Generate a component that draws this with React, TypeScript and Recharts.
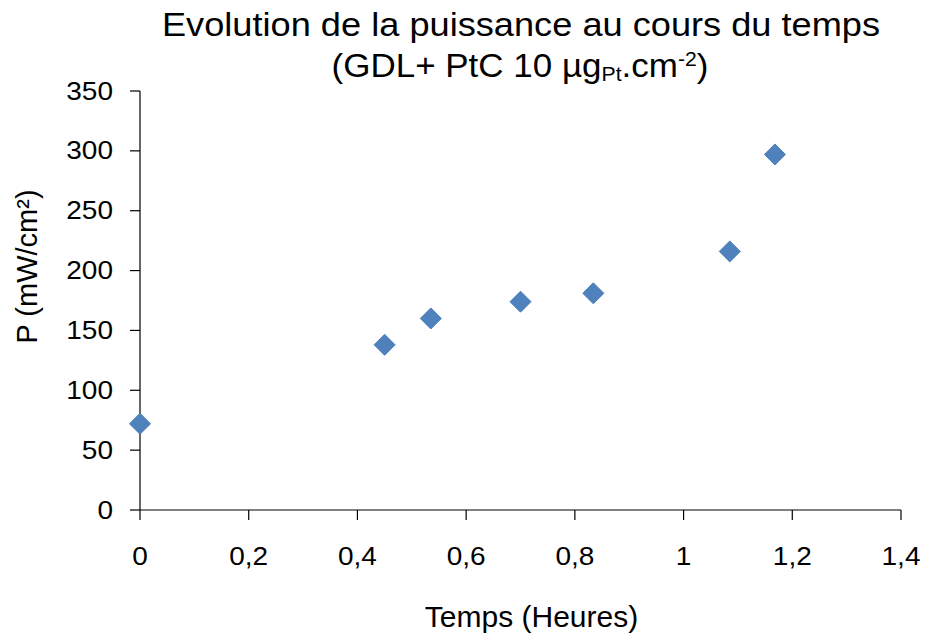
import React from 'react';
import { ScatterChart, Scatter, XAxis, YAxis, Label } from 'recharts';

const timeHours = [0, 0.45, 0.535, 0.7, 0.834, 1.085, 1.168];
const powerMW = [72, 138, 160, 174, 181, 216, 297];
const xTicks = [0, 0.2, 0.4, 0.6, 0.8, 1, 1.2, 1.4];
const yTicks = [0, 50, 100, 150, 200, 250, 300, 350];
const titleLine1 = 'Evolution de la puissance au cours du temps';
const titleLine2Main = '(GDL+ PtC 10 µg';
const titleSub = 'Pt';
const titleMid = '.cm';
const titleSup = '-2';
const titleEnd = ')';
const xAxisTitle = 'Temps (Heures)';
const yAxisTitle = 'P (mW/cm²)';

const data = timeHours.map((t, i) => ({ x: t, y: powerMW[i] }));

const FONT = "'Liberation Sans', Arial, Helvetica, sans-serif";
const fmt = (v: number) => String(v).replace('.', ',');

const Diamond = (props: any) => {
  const { cx, cy } = props;
  const r = 10.5;
  return (
    <polygon
      points={`${cx},${cy - r} ${cx + r},${cy} ${cx},${cy + r} ${cx - r},${cy}`}
      fill="#4F81BD"
      stroke="#4A7EBB"
      strokeWidth={1}
    />
  );
};

const XTick = (props: any) => {
  const { x, y, payload } = props;
  return (
    <text
      transform={`translate(${x},${y}) scale(1.12,1)`}
      textAnchor="middle"
      fontSize={25}
      fontFamily={FONT}
      fill="#000"
    >
      {fmt(payload.value)}
    </text>
  );
};

const YTick = (props: any) => {
  const { x, y, payload } = props;
  return (
    <text
      transform={`translate(${x},${y + 8.5}) scale(1.12,1)`}
      textAnchor="end"
      fontSize={25}
      fontFamily={FONT}
      fill="#000"
    >
      {fmt(payload.value)}
    </text>
  );
};

const XLabel = (props: any) => {
  const vb = props.viewBox || { x: 140, y: 510, width: 761, height: 125 };
  const cx = vb.x + vb.width / 2 + 11;
  const by = vb.y + 117.3;
  return (
    <text
      transform={`translate(${cx},${by}) scale(1.035,1)`}
      textAnchor="middle"
      fontSize={29}
      fontFamily={FONT}
      fill="#000"
    >
      {xAxisTitle}
    </text>
  );
};

const YLabel = (props: any) => {
  const vb = props.viewBox || { x: 0, y: 91, width: 140, height: 419 };
  const cy = vb.y + vb.height / 2 - 34;
  const bx = vb.x + 36.5;
  return (
    <text
      transform={`translate(${bx},${cy}) rotate(-90)`}
      textAnchor="middle"
      fontSize={29}
      fontFamily={FONT}
      fill="#000"
    >
      {yAxisTitle}
    </text>
  );
};

export default function App() {
  return (
    <div style={{ position: 'absolute', left: 0, top: 0, width: 927, height: 635, background: '#fff' }}>
      <ScatterChart width={927} height={635} margin={{ top: 91, right: 26, left: 0, bottom: 0 }}>
        <XAxis
          type="number"
          dataKey="x"
          domain={[0, 1.4]}
          ticks={xTicks}
          interval={0}
          height={125}
          tickSize={10}
          tickMargin={45}
          tick={<XTick />}
          axisLine={{ stroke: '#000', strokeWidth: 1.2 }}
          tickLine={{ stroke: '#000', strokeWidth: 1.2 }}
        >
          <Label content={<XLabel />} />
        </XAxis>
        <YAxis
          type="number"
          dataKey="y"
          domain={[0, 350]}
          ticks={yTicks}
          interval={0}
          width={140}
          tickSize={10}
          tickMargin={17}
          tick={<YTick />}
          axisLine={{ stroke: '#000', strokeWidth: 1.2 }}
          tickLine={{ stroke: '#000', strokeWidth: 1.2 }}
        >
          <Label content={<YLabel />} />
        </YAxis>
        <Scatter data={data} shape={<Diamond />} isAnimationActive={false} />
      </ScatterChart>
      <svg
        width={927}
        height={635}
        style={{ position: 'absolute', left: 0, top: 0, pointerEvents: 'none' }}
      >
        <text
          transform="translate(521,35.7) scale(1.097,1)"
          textAnchor="middle"
          fontSize={33}
          fontFamily={FONT}
          fill="#000"
        >
          {titleLine1}
        </text>
        <text
          transform="translate(520,76.7) scale(1.06,1)"
          textAnchor="middle"
          fontSize={33}
          fontFamily={FONT}
          fill="#000"
        >
          {titleLine2Main}
          <tspan fontSize={20} dy={4.5}>{titleSub}</tspan>
          <tspan dy={-4.5}>{titleMid}</tspan>
          <tspan fontSize={20} dy={-11}>{titleSup}</tspan>
          <tspan dy={11}>{titleEnd}</tspan>
        </text>
      </svg>
    </div>
  );
}
